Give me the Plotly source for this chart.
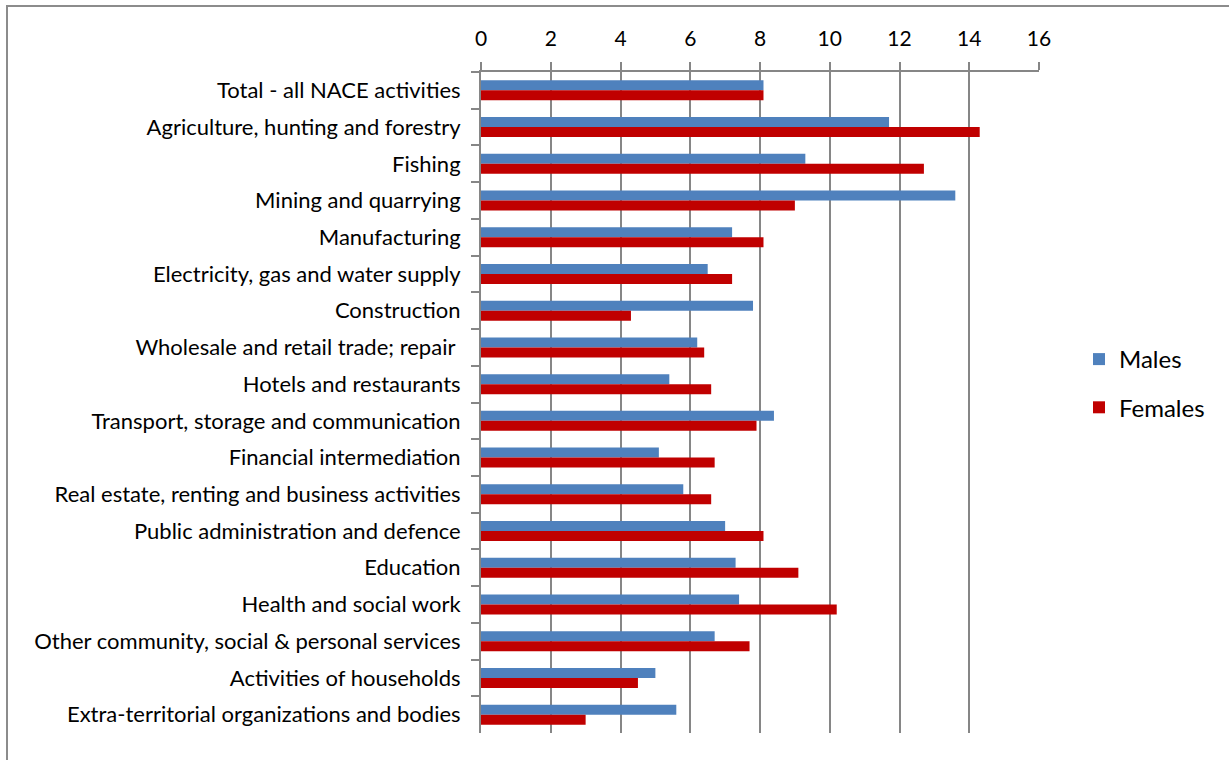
import plotly.graph_objects as go

categories = [
    "Total - all NACE activities",
    "Agriculture, hunting and forestry",
    "Fishing",
    "Mining and quarrying",
    "Manufacturing",
    "Electricity, gas and water supply",
    "Construction",
    "Wholesale and retail trade; repair ",
    "Hotels and restaurants",
    "Transport, storage and communication",
    "Financial intermediation",
    "Real estate, renting and business activities",
    "Public administration and defence",
    "Education",
    "Health and social work",
    "Other community, social & personal services",
    "Activities of households",
    "Extra-territorial organizations and bodies",
]
males = [8.1, 11.7, 9.3, 13.6, 7.2, 6.5, 7.8, 6.2, 5.4, 8.4, 5.1, 5.8, 7.0, 7.3, 7.4, 6.7, 5.0, 5.6]
females = [8.1, 14.3, 12.7, 9.0, 8.1, 7.2, 4.3, 6.4, 6.6, 7.9, 6.7, 6.6, 8.1, 9.1, 10.2, 7.7, 4.5, 3.0]
x_ticks = [0, 2, 4, 6, 8, 10, 12, 14, 16]

FONT = "Lato"
GRID = "#868686"

fig = go.Figure()
fig.add_trace(go.Bar(y=categories, x=males, orientation="h", name="Males", legendgroup="m",
                     marker=dict(color="#4F81BD", line=dict(width=0))))
fig.add_trace(go.Bar(y=categories, x=females, orientation="h", name="Females", legendgroup="f",
                     marker=dict(color="#C00000", line=dict(width=0))))

L, R, T, B = 481, 1039, 72, 733
W, H = 1229, 760
pw, ph = R - L, B - T

fig.update_layout(
    width=W, height=H,
    margin=dict(l=L, r=W - R, t=T, b=H - B, pad=0),
    paper_bgcolor="white", plot_bgcolor="white",
    barmode="group", bargap=0.455, bargroupgap=0,
    font=dict(family=FONT, size=22, color="black"),
    legend=dict(x=(1079 - L) / pw, y=(B - 337) / ph, xanchor="left", yanchor="top",
                font=dict(size=24, family=FONT), itemwidth=30, traceorder="grouped",
                tracegroupgap=14, bgcolor="rgba(0,0,0,0)"),
    xaxis=dict(side="top", range=[0, 16], tickvals=x_ticks, ticktext=[str(v) for v in x_ticks],
               showgrid=True, gridcolor=GRID, gridwidth=2, zeroline=False,
               showline=True, linecolor=GRID, linewidth=2,
               ticks="outside", ticklen=8, tickcolor=GRID, tickwidth=2,
               tickfont=dict(size=21, family=FONT), ticklabelstandoff=8,
               fixedrange=True),
    yaxis=dict(autorange="reversed", showgrid=False, zeroline=False,
               showline=True, linecolor=GRID, linewidth=2,
               ticks="outside", ticklen=8, tickcolor=GRID, tickwidth=2,
               tickson="boundaries", ticklabelstandoff=14,
               tickfont=dict(size=22, family=FONT), fixedrange=True),
    shapes=[dict(type="rect", xref="paper", yref="paper",
                 x0=(7 - L) / pw, x1=(1240 - L) / pw,
                 y0=(B - 775) / ph, y1=(B - 6) / ph,
                 line=dict(color="#8C8C8C", width=2), fillcolor="rgba(0,0,0,0)", layer="below")],
)

fig.write_html("out.html", config={"displayModeBar": False},
               post_script="document.body.style.margin='0';document.body.style.overflow='hidden';")
